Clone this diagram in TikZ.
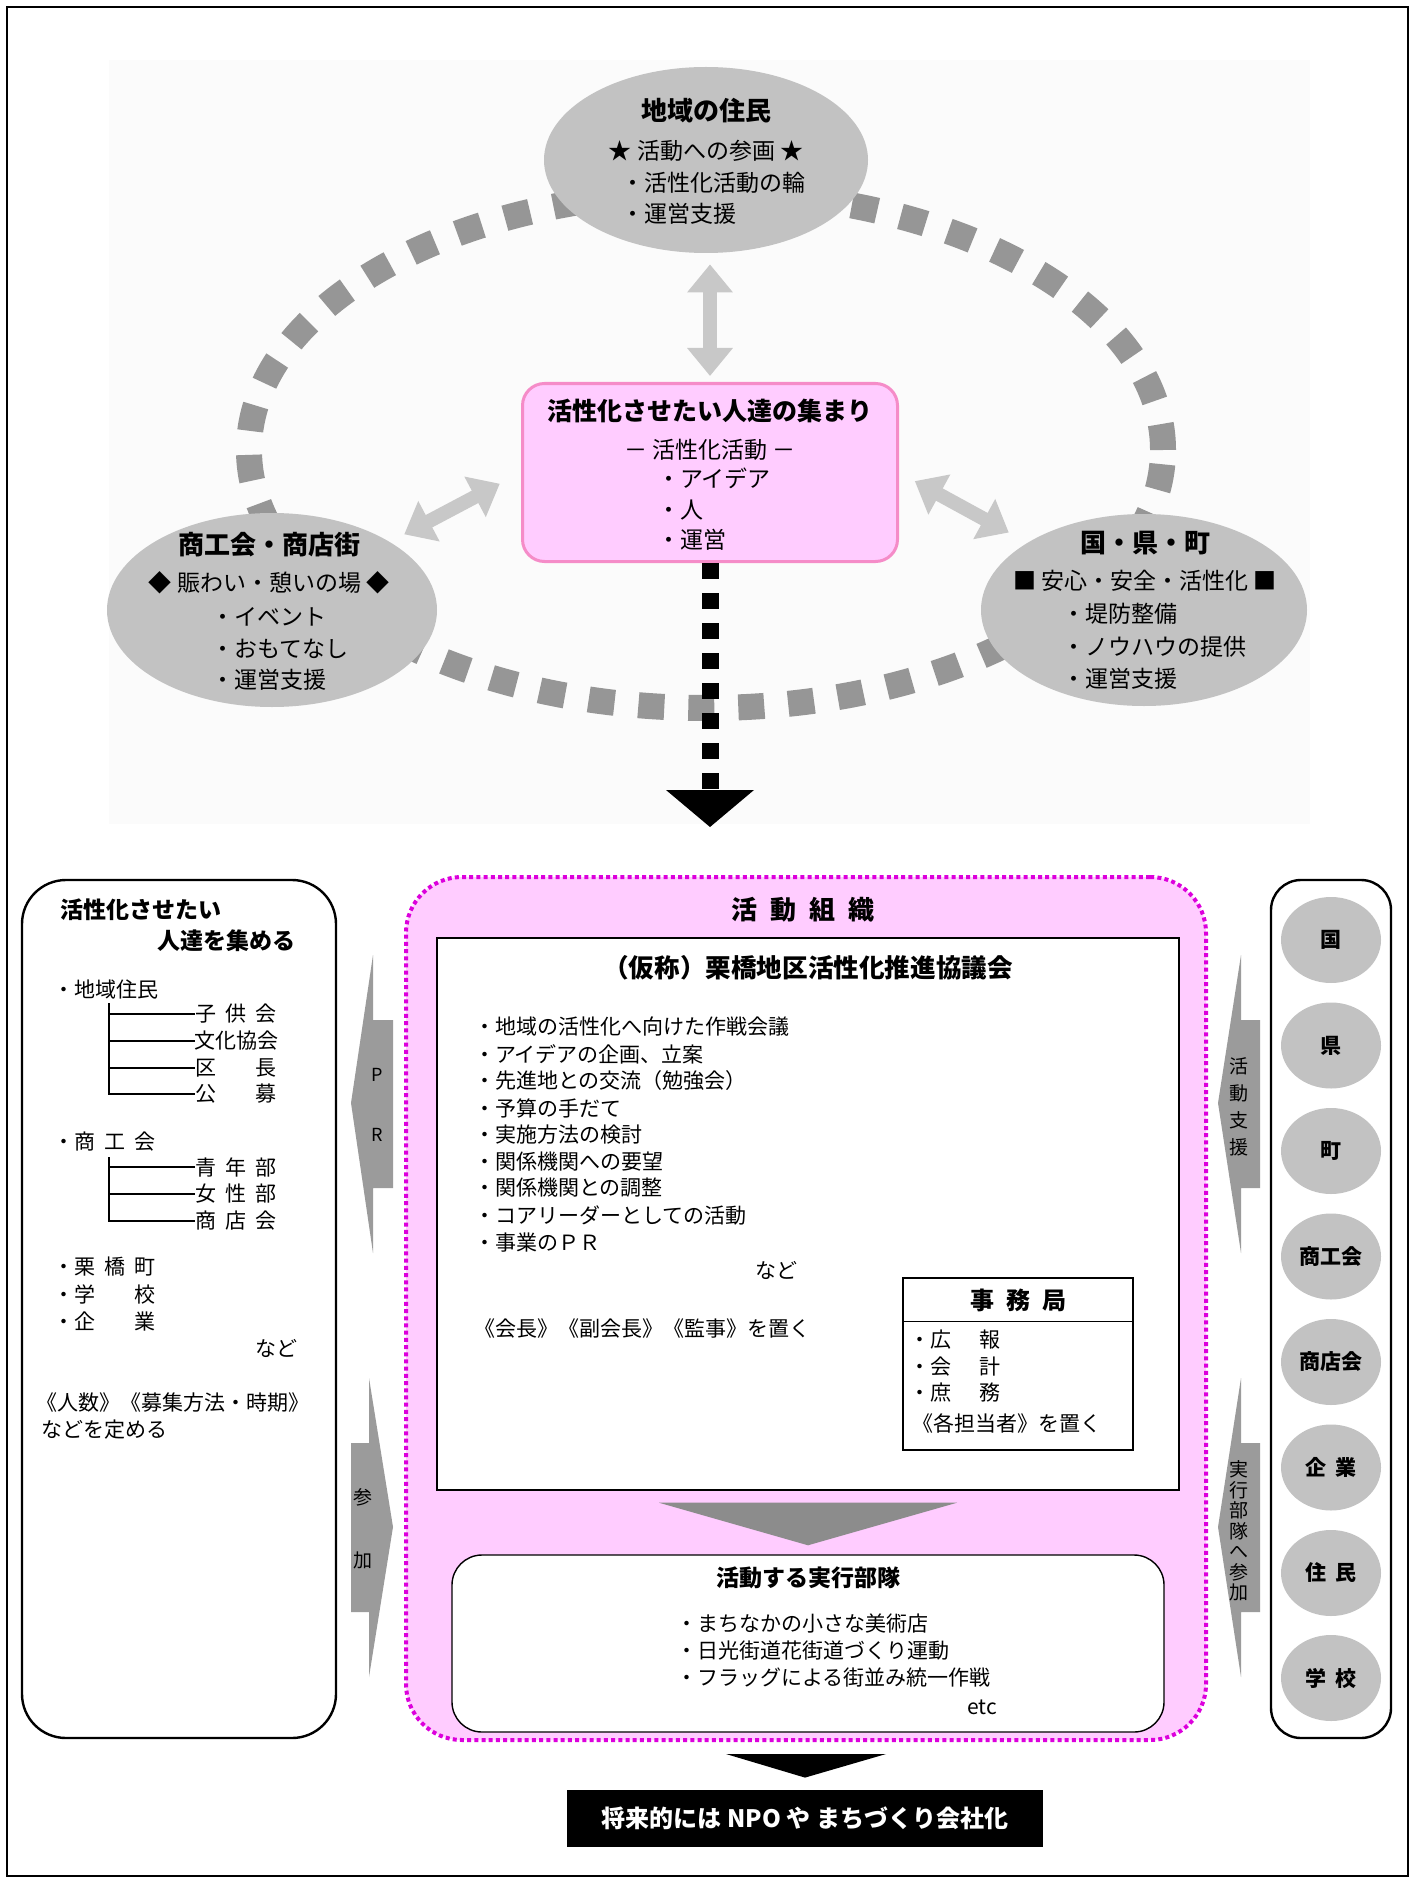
\documentclass[tikz,border=0pt]{standalone}
\usepackage{fontspec}
\setmainfont{Noto Sans CJK JP}
\usetikzlibrary{shapes.geometric,arrows.meta,calc}
\newcommand\fsz[1]{\fontsize{#1}{#1}\selectfont}
\definecolor{ellg}{RGB}{194,194,194}
\definecolor{ringg}{RGB}{150,150,150}
\definecolor{arrg}{RGB}{200,200,200}
\definecolor{pinkf}{RGB}{255,204,255}
\definecolor{pinkb}{RGB}{245,140,200}
\definecolor{magd}{RGB}{220,0,220}
\definecolor{sideg}{RGB}{155,155,155}
\definecolor{trig}{RGB}{140,140,140}
\definecolor{bgfaint}{RGB}{251,251,251}
\tikzset{
 tx/.style={inner sep=0pt, outer sep=0pt, font=\fsz{10.5}},
 txl/.style={tx, anchor=west},
 bt/.style={inner sep=0pt, outer sep=0pt, font=\fsz{11.5}},
 btl/.style={bt, anchor=west},
 hd/.style={inner sep=0pt, outer sep=0pt, font=\fsz{12.5}\bfseries},
 ell/.style={ellipse, fill=ellg, inner sep=0pt},
 wbox/.style={rectangle, draw=black, line width=0.7pt, fill=white, inner sep=0pt},
 lbox/.style={rectangle, draw=black, line width=1.2pt, fill=white, inner sep=0pt},
 circ/.style={ellipse, fill=ellg, inner sep=0pt, minimum width=50pt, minimum height=43pt, font=\fsz{10.5}\bfseries},
 dbl/.style={draw=arrg, line width=7pt, arrows={Triangle[width=22pt,length=14pt]-Triangle[width=22pt,length=14pt]}},
 ringdash/.style={draw=ringg, line width=13pt, dash pattern=on 13pt off 12pt},
 blkdash/.style={draw=black, line width=8.5pt, dash pattern=on 8pt off 7pt},
 sidearr/.style={fill=sideg},
 treel/.style={draw=black, line width=0.6pt},
 vtx/.style={inner sep=0pt, align=center},
}
\begin{document}
\begin{tikzpicture}[x=0.5pt,y=-0.5pt]
\useasboundingbox (0,0) rectangle (1415,1883);
\fill[white] (0,0) rectangle (1415,1883);
\draw[line width=1pt] (7,7) rectangle (1408,1876);

% ---------- top diagram ----------
\fill[bgfaint] (109,60) rectangle (1310,824);
\draw[ringdash] (706,450) ellipse [x radius=228.5pt, y radius=129pt];

\node[ell, minimum width=162pt, minimum height=93pt] (topell) at (706,160) {};
\node[hd, font=\fsz{13}\bfseries] (topt) at (706,111) {地域の住民};
\node[bt] (tops) at (706,151) {★ 活動への参画 ★};
\node[btl] (topb1) at (621,183) {・活性化活動の輪};
\node[btl] (topb2) at (621,214) {・運営支援};

\node[ell, minimum width=165pt, minimum height=97pt] (lell) at (272,610) {};
\node[hd, font=\fsz{13}\bfseries] (lellt) at (269,545) {商工会・商店街};
\node[bt] (lells) at (269,583) {◆ 賑わい・憩いの場 ◆};
\node[btl] (lellb1) at (211,617) {・イベント};
\node[btl] (lellb2) at (211,649) {・おもてなし};
\node[btl] (lellb3) at (211,680) {・運営支援};

\node[ell, minimum width=163pt, minimum height=96pt] (rell) at (1144,610) {};
\node[hd, font=\fsz{13}\bfseries] (rellt) at (1145,543) {国・県・町};
\node[bt] (rells) at (1145,581) {■ 安心・安全・活性化 ■};
\node[btl] (rellb1) at (1062,614) {・堤防整備};
\node[btl] (rellb2) at (1062,647) {・ノウハウの提供};
\node[btl] (rellb3) at (1062,679) {・運営支援};

\node[rectangle, rounded corners=11pt, fill=pinkf, draw=pinkb, line width=1.5pt,
      minimum width=187.5pt, minimum height=89pt, inner sep=0pt] (pink) at (710,472.5) {};
\node[hd] (pinkt) at (710,411) {活性化させたい人達の集まり};
\node[bt] (pinks) at (710,450) {－ 活性化活動 －};
\node[btl] (pinkb1) at (657,478) {・アイデア};
\node[btl] (pinkb2) at (657,510) {・人};
\node[btl] (pinkb3) at (657,540) {・運営};

\draw[dbl, shorten <=5.5pt, shorten >=3pt] (topell.south -| pink.north) -- (pink.north);
\draw[dbl, shorten <=8pt, shorten >=12pt] (lell.30) -- (pink.west);
\draw[dbl, shorten <=9pt, shorten >=10.5pt] (pink.east) -- (rell.150);

\coordinate (dend) at (710,790);
\draw[blkdash] (pink.south) -- (dend);
\fill[black] (dend) ++(-44,0) -- ++(88,0) -- ++(-44,37) -- cycle;

% ---------- lower part ----------
% left box
\node[lbox, rounded corners=22pt, minimum width=157pt, minimum height=429pt] (lbox) at (179,1309) {};
\node[hd, font=\fsz{11.5}\bfseries, anchor=west] (lt1) at (60,910) {活性化させたい};
\node[hd, font=\fsz{11.5}\bfseries, anchor=west] (lt2) at (157,941) {人達を集める};
\node[txl] (la) at (53,989) {・地域住民};
\node[txl] (la1) at (195,1014) {\makebox[41pt]{子\hfill 供\hfill 会}};
\node[txl] (la2) at (195,1041) {\makebox[41pt]{文化協会}};
\node[txl] (la3) at (195,1068) {\makebox[41pt]{区\hfill 長}};
\node[txl] (la4) at (195,1094) {\makebox[41pt]{公\hfill 募}};
\coordinate (tra) at (109,1003);
\draw[treel] (tra) |- (la4.west);
\foreach \i in {1,2,3} \draw[treel] (tra |- la\i.west) -- (la\i.west);

\node[txl] (lb) at (53,1142) {・\makebox[41pt]{商\hfill 工\hfill 会}};
\node[txl] (lb1) at (195,1167) {\makebox[41pt]{青\hfill 年\hfill 部}};
\node[txl] (lb2) at (195,1194) {\makebox[41pt]{女\hfill 性\hfill 部}};
\node[txl] (lb3) at (195,1221) {\makebox[41pt]{商\hfill 店\hfill 会}};
\coordinate (trb) at (109,1157);
\draw[treel] (trb) |- (lb3.west);
\foreach \i in {1,2} \draw[treel] (trb |- lb\i.west) -- (lb\i.west);

\node[txl] (lc1) at (53,1267) {・\makebox[41pt]{栗\hfill 橋\hfill 町}};
\node[txl] (lc2) at (53,1294) {・\makebox[41pt]{学\hfill 校}};
\node[txl] (lc3) at (53,1321) {・\makebox[41pt]{企\hfill 業}};
\node[tx, anchor=east] (lnado) at (297,1348) {など};
\node[txl] (ld1) at (36,1403) {《人数》《募集方法・時期》};
\node[txl] (ld2) at (41,1430) {などを定める};

% right box
\node[lbox, rounded corners=15pt, minimum width=60pt, minimum height=429pt] (rbox) at (1331,1309) {};
\node[circ] (c1) at (1331,940) {国};
\node[circ] (c2) at (1331,1045.5) {県};
\node[circ] (c3) at (1331,1151) {町};
\node[circ] (c4) at (1331,1256.5) {商工会};
\node[circ] (c5) at (1331,1362) {商店会};
\node[circ] (c6) at (1331,1467.5) {企\hspace{0.4em}業};
\node[circ] (c7) at (1331,1573) {住\hspace{0.4em}民};
\node[circ] (c8) at (1331,1678) {学\hspace{0.4em}校};

% central organisation
\node[rectangle, rounded corners=28pt, fill=pinkf, draw=magd, line width=2pt,
      dash pattern=on 2pt off 1.6pt, minimum width=400pt, minimum height=431.5pt, inner sep=0pt] (org) at (806,1308.5) {};
\node[hd, font=\fsz{13}\bfseries] (orgt) at (803,910) {\makebox[72pt]{活\hfill 動\hfill 組\hfill 織}};

\node[wbox, minimum width=371pt, minimum height=276pt] (coun) at (808,1214) {};
\node[hd, font=\fsz{12.8}\bfseries] (count) at (808,968) {（仮称）栗橋地区活性化推進協議会};
\node[txl] (cb1) at (474,1027) {・地域の活性化へ向けた作戦会議};
\node[txl] (cb2) at (474,1054) {・アイデアの企画、立案};
\node[txl] (cb3) at (474,1081) {・先進地との交流（勉強会）};
\node[txl] (cb4) at (474,1108) {・予算の手だて};
\node[txl] (cb5) at (474,1135) {・実施方法の検討};
\node[txl] (cb6) at (474,1162) {・関係機関への要望};
\node[txl] (cb7) at (474,1188) {・関係機関との調整};
\node[txl] (cb8) at (474,1215) {・コアリーダーとしての活動};
\node[txl] (cb9) at (474,1243) {・事業のＰＲ};
\node[tx] (cnado) at (776,1270) {など};
\node[txl] (cpost) at (474,1329) {《会長》《副会長》《監事》を置く};

\node[wbox, minimum width=115pt, minimum height=86pt] (jim) at (1018,1364) {};
\draw[line width=0.7pt] ($(jim.north west)+(0,44)$) -- ($(jim.north east)+(0,44)$);
\node[hd, font=\fsz{12}\bfseries] (jimt) at (1018,1300) {\makebox[48pt]{事\hfill 務\hfill 局}};
\node[txl] (jb1) at (909,1340) {・\makebox[35pt]{広\hfill 報}};
\node[txl] (jb2) at (909,1367) {・\makebox[35pt]{会\hfill 計}};
\node[txl] (jb3) at (909,1393) {・\makebox[35pt]{庶\hfill 務}};
\node[txl] (jb4) at (912,1423) {《各担当者》を置く};

\node[wbox, rounded corners=15pt, minimum width=356pt, minimum height=88.5pt] (exec) at (808,1643.5) {};
\node[hd, font=\fsz{11.5}\bfseries] (exect) at (808,1578) {活動する実行部隊};
\node[txl] (eb1) at (676,1623) {・まちなかの小さな美術店};
\node[txl] (eb2) at (676,1651) {・日光街道花街道づくり運動};
\node[txl] (eb3) at (676,1678) {・フラッグによる街並み統一作戦};
\node[tx] (eetc) at (982,1707) {etc};

\fill[trig] ($(coun.south)+(-149,12)$) -- ($(coun.south)+(149,12)$) -- ($(exec.north)+(0,-9)$) -- cycle;

\node[rectangle, fill=black, text=white, inner sep=0pt, minimum width=238pt, minimum height=28.5pt,
      font=\fsz{12}\bfseries] (fut) at (805,1818.5) {将来的には NPO や まちづくり会社化};
\fill[black] ($(org.south)+(-80,12)$) -- ($(org.south)+(80,12)$) -- ($(fut.north)+(0,-12)$) -- cycle;

% side block arrows
\fill[sidearr] (373,955) -- (373,1020) -- (393,1020) -- (393,1188) -- (373,1188) -- (373,1253) -- (351,1103) -- cycle;
\node[tx, font=\fsz{9}] (pr1) at (377,1075) {P};
\node[tx, font=\fsz{9}] (pr2) at (377,1135) {R};

\fill[sidearr] (369,1378) -- (393,1527) -- (369,1677) -- (369,1612) -- (351,1612) -- (351,1443) -- (369,1443) -- cycle;
\node[tx, font=\fsz{9.5}] (sk1) at (363,1497) {参};
\node[tx, font=\fsz{9.5}] (sk2) at (363,1560) {加};

\fill[sidearr] (1241,955) -- (1241,1020) -- (1260,1020) -- (1260,1188) -- (1241,1188) -- (1241,1253) -- (1218,1103) -- cycle;
\node[vtx, font=\fontsize{9.5}{13.4}\selectfont] (vt1) at (1239,1107) {活\\動\\支\\援};

\fill[sidearr] (1241,1378) -- (1241,1443) -- (1260,1443) -- (1260,1612) -- (1241,1612) -- (1241,1677) -- (1218,1527) -- cycle;
\node[vtx, font=\fontsize{9.5}{10.25}\selectfont] (vt2) at (1239,1531) {実\\行\\部\\隊\\へ\\参\\加};
\end{tikzpicture}
\end{document}
